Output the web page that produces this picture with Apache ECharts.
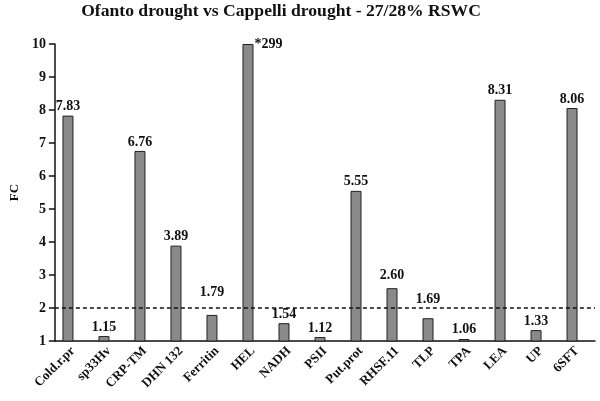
<!DOCTYPE html>
<html><head><meta charset="utf-8">
<script src="https://cdn.jsdelivr.net/npm/echarts@6/dist/echarts.min.js"></script>
<style>html,body{margin:0;padding:0;background:#fff}#c{width:600px;height:401px}</style>
</head><body><div id="c"></div>
<script>
var categories = ['Cold.r.pr','sp33Hv','CRP-TM','DHN 132','Ferritin','HEL','NADH','PSII','Put.prot','RHSF.11','TLP','TPA','LEA','UP','6SFT'];
var values = [7.83, 1.15, 6.76, 3.89, 1.79, 10, 1.54, 1.12, 5.55, 2.60, 1.69, 1.06, 8.31, 1.33, 8.06];
var valueLabels = ['7.83','1.15','6.76','3.89','1.79','*299','1.54','1.12','5.55','2.60','1.69','1.06','8.31','1.33','8.06'];
var labelLift = [0, 0, 0, 0, 14, 0, 0, 0, 0, 4, 10, 1, 0, 0, 0];
var yTicks = [1,2,3,4,5,6,7,8,9,10];
var threshold = 2;

var font = '"Liberation Serif", "Times New Roman", serif';
var chart = echarts.init(document.getElementById('c'), null, {renderer:'canvas'});
var barData = values.map(function(v, i){
  var item = {value: v};
  if (valueLabels[i].charAt(0) === '*') {
    item.label = {position: [12, -7], align: 'left', verticalAlign: 'top'};
  } else if (labelLift[i]) {
    item.label = {distance: 2 + labelLift[i]};
  }
  return item;
});
chart.setOption({
  animation: false,
  title: {text: 'Ofanto drought vs Cappelli drought - 27/28% RSWC', left: 276, top: -3, textAlign: 'center',
    textStyle: {fontFamily: font, fontWeight: 'bold', fontSize: 17.6, color: '#111'}},
  grid: {left: 51, right: 5, top: 44, bottom: 60},
  xAxis: {type: 'category', data: categories,
    axisLine: {lineStyle: {color: '#111', width: 1.5}},
    axisTick: {length: 5, lineStyle: {color: '#111', width: 1.5}},
    axisLabel: {rotate: 45, margin: 8, fontFamily: font, fontWeight: 'bold', fontSize: 13, color: '#111', interval: 0}},
  yAxis: {type: 'value', min: 1, max: 10, interval: 1, name: 'FC', nameLocation: 'middle', nameGap: 33,
    nameRotate: 90,
    nameTextStyle: {fontFamily: font, fontWeight: 'bold', fontSize: 13, color: '#111'},
    axisLine: {show: true, lineStyle: {color: '#111', width: 1.5}},
    axisTick: {show: true, length: 6, lineStyle: {color: '#111', width: 1.5}},
    splitLine: {show: false},
    axisLabel: {margin: 9, fontFamily: font, fontWeight: 'bold', fontSize: 14, color: '#111',
      formatter: function(v){ return yTicks.indexOf(v) >= 0 ? String(v) : ''; }}},
  series: [{
    type: 'bar', data: barData, barWidth: 11, barGap: '-10%',
    itemStyle: {color: '#8a8a8a', borderColor: '#222', borderWidth: 1},
    label: {show: true, position: 'top', distance: 2, fontFamily: font, fontWeight: 'bold', fontSize: 14, color: '#111',
      formatter: function(p){ return valueLabels[p.dataIndex]; }},
    markLine: {symbol: 'none', silent: true, label: {show: false},
      lineStyle: {color: '#111', type: [4, 3], width: 1.5},
      data: [{yAxis: threshold}]}
  }, {
    type: 'bar', data: categories.map(function(){ return '-'; }), barWidth: 11
  }]
});
</script></body></html>
